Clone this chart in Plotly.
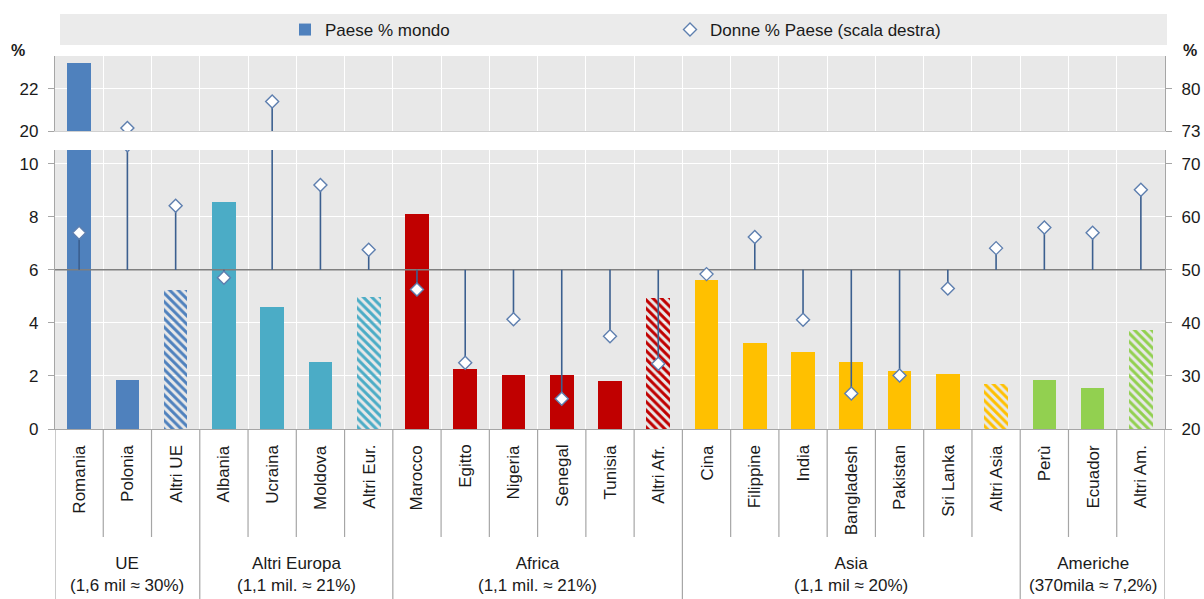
import plotly.graph_objects as go

# ---- data -------------------------------------------------------------
countries = ["Romania", "Polonia", "Altri UE",
             "Albania", "Ucraina", "Moldova", "Altri Eur.",
             "Marocco", "Egitto", "Nigeria", "Senegal", "Tunisia", "Altri Afr.",
             "Cina", "Filippine", "India", "Bangladesh", "Pakistan", "Sri Lanka", "Altri Asia",
             "Perù", "Ecuador", "Altri Am."]

# country share of all foreign residents (%), left scale
share_world = [23.2, 1.86, 5.23,
               8.57, 4.60, 2.53, 4.96,
               8.09, 2.26, 2.04, 2.04, 1.80, 4.94,
               5.62, 3.26, 2.92, 2.53, 2.19, 2.09, 1.70,
               1.85, 1.56, 3.74]

# women as % of each country's residents, right scale
women_share = [57.0, 73.5, 62.1,
               48.5, 77.9, 66.0, 53.8,
               46.3, 32.5, 40.7, 25.7, 37.5, 32.3,
               49.2, 56.2, 40.6, 26.7, 30.1, 46.5, 54.1,
               58.0, 57.0, 65.1]

group_names = ["UE", "Altri Europa", "Africa", "Asia", "Americhe"]
group_notes = ["(1,6 mil ≈ 30%)", "(1,1 mil. ≈ 21%)", "(1,1 mil. ≈ 21%)",
               "(1,1 mil ≈ 20%)", "(370mila ≈ 7,2%)"]
group_sizes = [3, 4, 6, 7, 3]
group_colors = ["#4F81BD", "#4BACC6", "#C00000", "#FFC000", "#92D050"]

PARITY = 50  # women = men

# ---- geometry helpers --------------------------------------------------
W, H = 1204, 599
ML, MR, MT, MB = 55, 39, 56, 170
PH = H - MT - MB
PW = W - ML - MR


def ypaper(px):
    """pixel row -> paper y"""
    return (H - MB - px) / PH


def xpaper(px):
    """pixel column -> paper x"""
    return (px - ML) / PW


FONT = "Liberation Sans, Arial, sans-serif"
TXT = "#1A1A1A"
AXC = "#A6A6A6"
BG = "#E8E8E8"

n = len(countries)
xs = list(range(n))

bar_colors = []
for g, size in enumerate(group_sizes):
    bar_colors += [group_colors[g]] * size
hatch = ["\\" if c.startswith("Altri") else "" for c in countries]

fig = go.Figure()

bar_kw = dict(
    x=xs, y=share_world, width=0.49,
    marker=dict(color=bar_colors, line=dict(width=0),
                pattern=dict(shape=hatch, fgcolor=bar_colors, bgcolor="white",
                             size=6, solidity=0.5, fillmode="replace")),
    hoverinfo="skip",
)
fig.add_trace(go.Bar(name="Paese % mondo", xaxis="x", yaxis="y", **bar_kw))
fig.add_trace(go.Bar(showlegend=False, xaxis="x2", yaxis="y3", **bar_kw))

# parity line
fig.add_trace(go.Scatter(x=[-0.5, n - 0.5], y=[PARITY, PARITY], mode="lines",
                         line=dict(color="#7F7F7F", width=1.5),
                         showlegend=False, hoverinfo="skip",
                         xaxis="x", yaxis="y2"))

# stems from the parity line to each marker
sx, sy = [], []
for i, v in enumerate(women_share):
    sx += [i, i, None]
    sy += [PARITY, v, None]
stem_kw = dict(x=sx, y=sy, mode="lines", line=dict(color="#3B5F8F", width=1.6),
               showlegend=False, hoverinfo="skip")
fig.add_trace(go.Scatter(xaxis="x", yaxis="y2", **stem_kw))
fig.add_trace(go.Scatter(xaxis="x2", yaxis="y4", **stem_kw))

mk = dict(symbol="diamond", size=10, color="white",
          line=dict(color="#5E7FAF", width=1.4))
fig.add_trace(go.Scatter(x=xs, y=women_share, mode="markers", marker=mk,
                         name="Donne % Paese (scala destra)",
                         xaxis="x", yaxis="y2"))
fig.add_trace(go.Scatter(x=xs, y=women_share, mode="markers", marker=mk,
                         showlegend=False, xaxis="x2", yaxis="y4"))

# ---- axes -------------------------------------------------------------
bottom_dom = [0, ypaper(150)]
top_dom = [ypaper(131), 1]
lo_range = [0, 10.52]
lo_right = [20, 20 + 5 * lo_range[1]]
hi_range = [20, 23.55]
hi_right = [73, 73 + 3.5 * (hi_range[1] - hi_range[0])]

bounds = [k - 0.5 for k in range(n + 1)]
xcommon = dict(range=[-0.5, n - 0.5], tickmode="array", tickvals=bounds,
               showticklabels=False, ticks="", showgrid=True, gridcolor="white",
               gridwidth=1.3, zeroline=False, fixedrange=True, automargin=False)
tickfont = dict(family=FONT, size=17, color=TXT)
ycommon = dict(showline=True, linecolor=AXC, linewidth=1.3, ticks="outside",
               ticklen=6, tickcolor=AXC, tickwidth=1.3, tickfont=tickfont,
               zeroline=False, fixedrange=True, ticklabelstandoff=6,
               automargin=False)

fig.update_layout(
    xaxis=dict(anchor="y", showline=True, linecolor=AXC, linewidth=1.3, **xcommon),
    xaxis2=dict(anchor="y3", matches="x", showline=True, linecolor="#D0D0D0",
                linewidth=1, **xcommon),
    yaxis=dict(domain=bottom_dom, range=lo_range, tickvals=[0, 2, 4, 6, 8, 10],
               showgrid=True, gridcolor="white", gridwidth=1.3, **ycommon),
    yaxis2=dict(overlaying="y", side="right", anchor="x", range=lo_right,
                tickvals=[20, 30, 40, 50, 60, 70], showgrid=False, **ycommon),
    yaxis3=dict(domain=top_dom, anchor="x2", range=hi_range, tickvals=[20, 22],
                showgrid=True, gridcolor="white", gridwidth=1.3, **ycommon),
    yaxis4=dict(overlaying="y3", side="right", anchor="x2", range=hi_right,
                tickvals=[73, 80], showgrid=False, **ycommon),
)

# ---- category / group labels and separators -----------------------------
shapes, annotations = [], []
group_edges = [0]
for s in group_sizes:
    group_edges.append(group_edges[-1] + s)

for k in range(n + 1):
    long = k in group_edges
    shapes.append(dict(type="line", xref="x", yref="paper",
                       x0=k - 0.5, x1=k - 0.5, y0=0,
                       y1=ypaper(H if long else 537),
                       line=dict(color=AXC, width=1.2)))

for i, c in enumerate(countries):
    annotations.append(dict(x=i, y=ypaper(443), xref="x", yref="paper",
                            text=c, textangle=-90, showarrow=False,
                            xanchor="center", yanchor="top",
                            font=dict(family=FONT, size=17, color=TXT)))

for g in range(len(group_sizes)):
    cx = (group_edges[g] + group_edges[g + 1]) / 2 - 0.5
    annotations.append(dict(x=cx, y=ypaper(574), xref="x", yref="paper",
                            text=group_names[g] + "<br>" + group_notes[g],
                            showarrow=False, xanchor="center", yanchor="middle",
                            font=dict(family=FONT, size=17, color=TXT)))

# unit labels
for xp in (18, 1190):
    annotations.append(dict(x=xpaper(xp), y=ypaper(50),
                            xref="paper", yref="paper", text="<b>%</b>",
                            showarrow=False, xanchor="center", yanchor="middle",
                            font=dict(family=FONT, size=16, color=TXT)))

# legend band
shapes.append(dict(type="rect", xref="paper", yref="paper", layer="below",
                   x0=xpaper(60), x1=xpaper(1167),
                   y0=ypaper(45), y1=ypaper(14),
                   fillcolor="#EBEBEB", line=dict(width=0)))

fig.update_layout(
    width=W, height=H,
    margin=dict(l=ML, r=MR, t=MT, b=MB, pad=0, autoexpand=False),
    paper_bgcolor="white", plot_bgcolor=BG,
    barmode="overlay", bargap=0,
    shapes=shapes, annotations=annotations,
    font=dict(family=FONT, size=17, color=TXT),
    legend=dict(orientation="h", x=xpaper(285), xanchor="left",
                y=ypaper(30), yanchor="middle", bgcolor="rgba(0,0,0,0)",
                entrywidth=340, entrywidthmode="pixels",
                font=dict(family=FONT, size=17, color=TXT),
                itemclick=False, itemdoubleclick=False),
    showlegend=True,
)

fig.write_html("out.html", config={"displayModeBar": False})
